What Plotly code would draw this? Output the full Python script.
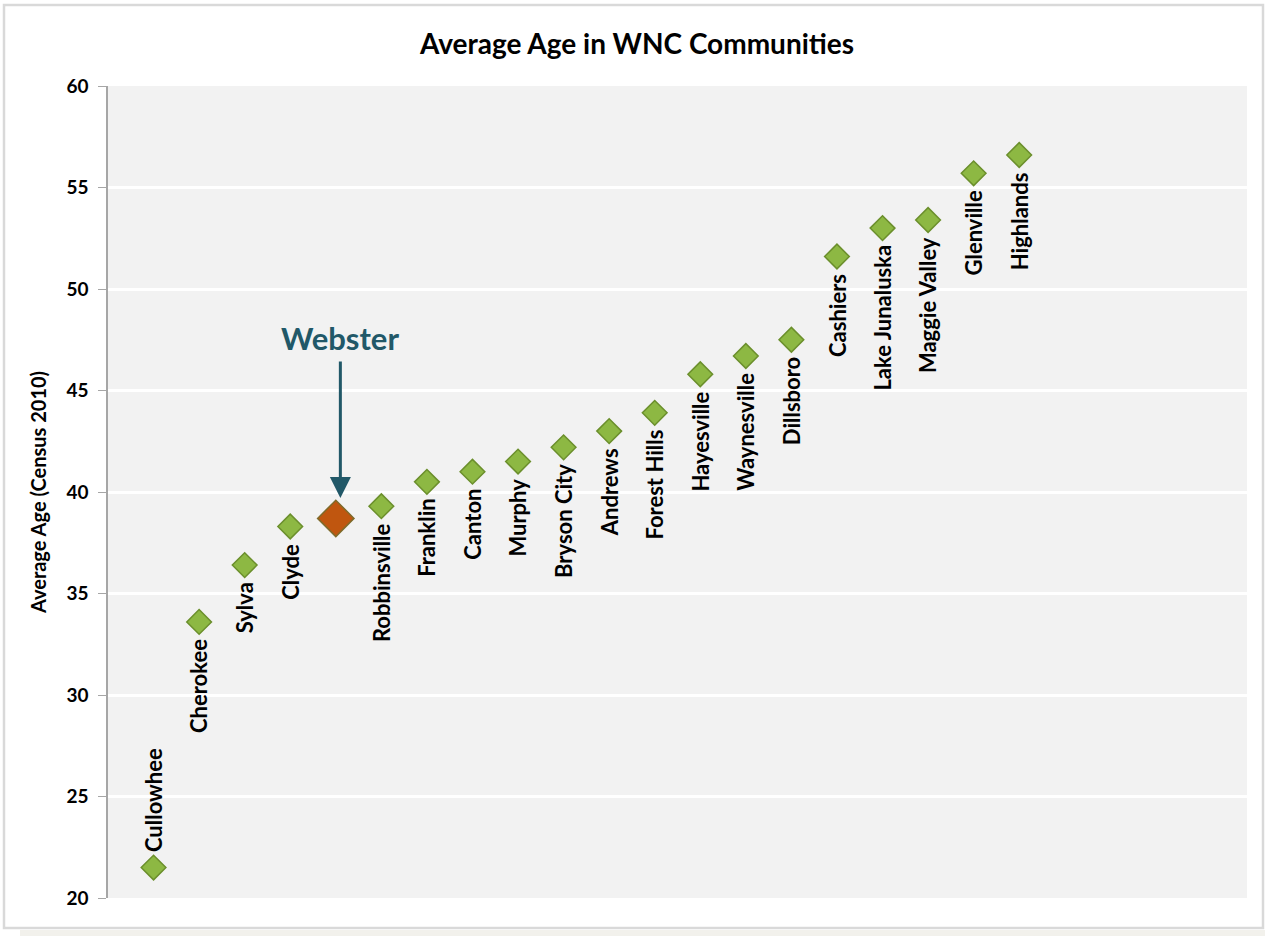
import plotly.graph_objects as go

communities = ["Cullowhee", "Cherokee", "Sylva", "Clyde", "Webster", "Robbinsville",
               "Franklin", "Canton", "Murphy", "Bryson City", "Andrews", "Forest Hills",
               "Hayesville", "Waynesville", "Dillsboro", "Cashiers", "Lake Junaluska",
               "Maggie Valley", "Glenville", "Highlands"]
avg_age = [21.5, 33.6, 36.4, 38.3, 38.7, 39.3, 40.5, 41.0, 41.5, 42.2, 43.0, 43.9,
           45.8, 46.7, 47.5, 51.6, 53.0, 53.4, 55.7, 56.6]
highlight = "Webster"
y_ticks = [20, 25, 30, 35, 40, 45, 50, 55, 60]

positions = list(range(1, len(communities) + 1))

FONT = "Lato, 'Open Sans', sans-serif"

fig = go.Figure()

others_x = [p for p, c in zip(positions, communities) if c != highlight]
others_y = [v for v, c in zip(avg_age, communities) if c != highlight]
hl_x = [p for p, c in zip(positions, communities) if c == highlight]
hl_y = [v for v, c in zip(avg_age, communities) if c == highlight]

fig.add_trace(go.Scatter(
    x=others_x, y=others_y, mode="markers",
    marker=dict(symbol="diamond", size=19, color="#8db843",
                line=dict(color="#6b8f2c", width=1.5)),
    showlegend=False, hoverinfo="skip"))
fig.add_trace(go.Scatter(
    x=hl_x, y=hl_y, mode="markers",
    marker=dict(symbol="diamond", size=28, color="#c0560f",
                line=dict(color="#7f6a2a", width=1.5)),
    showlegend=False, hoverinfo="skip"))

annotations = []
for p, c, v in zip(positions, communities, avg_age):
    if c == highlight:
        continue
    above = (c == "Cullowhee")
    annotations.append(dict(
        x=p, y=v, xref="x", yref="y", text=c, showarrow=False,
        textangle=-90, xanchor="center",
        yanchor="bottom" if above else "top",
        yshift=13 if above else -15,
        font=dict(family=FONT, size=22, color="#000000", weight="bold")))

# Webster callout
wi = communities.index(highlight)
annotations.append(dict(
    x=positions[wi] + 0.1, y=avg_age[wi] + 1.0, ax=positions[wi] + 0.1, ay=avg_age[wi] + 7.8,
    xref="x", yref="y", axref="x", ayref="y", text="", showarrow=True,
    arrowhead=2, arrowsize=1.4, arrowwidth=3, arrowcolor="#215868"))
annotations.append(dict(
    x=positions[wi], y=avg_age[wi] + 8.9, xref="x", yref="y", xshift=4,
    text="Webster", showarrow=False, xanchor="center", yanchor="middle",
    font=dict(family=FONT, size=31, color="#215868", weight="bold")))

W, H = 1265, 936
L, R, T, B = 108, 18, 86, 38
pw, ph = W - L - R, H - T - B

def px_x(px):
    return (px - L) / pw

def px_y(py):
    return (H - B - py) / ph

shapes = [
    dict(type="rect", xref="paper", yref="paper",
         x0=px_x(20), x1=px_x(1265), y0=px_y(936), y1=px_y(930),
         fillcolor="#f2f1ec", line=dict(width=0), layer="below"),
    dict(type="rect", xref="paper", yref="paper",
         x0=px_x(4), x1=px_x(1263), y0=px_y(928), y1=px_y(5),
         fillcolor="rgba(0,0,0,0)", line=dict(color="#d9d9d9", width=2.5), layer="below"),
]

fig.update_layout(
    width=W, height=H,
    margin=dict(l=L, r=R, t=T, b=B),
    paper_bgcolor="#ffffff", plot_bgcolor="#f2f2f2",
    title=dict(text="Average Age in WNC Communities", x=637 / W, xanchor="center",
               y=1 - 44 / H, yanchor="middle",
               font=dict(family=FONT, size=28, color="#000000", weight="bold")),
    xaxis=dict(range=[0, 25], showgrid=False, zeroline=False, showticklabels=False,
               ticks="", showline=False),
    yaxis=dict(range=[20, 60], tickvals=y_ticks, showgrid=True, gridcolor="#ffffff",
               gridwidth=3, zeroline=False, showline=True, linecolor="#a6a6a6",
               linewidth=1.5, ticks="outside", ticklen=8, tickcolor="#a6a6a6",
               ticklabelstandoff=6,
               tickfont=dict(family=FONT, size=19, color="#000000", weight="bold"),
               title=dict(text="Average Age (Census 2010)", standoff=14,
                          font=dict(family=FONT, size=20, color="#000000", weight="bold"))),
    annotations=annotations, shapes=shapes,
)

fig.write_html("out.html")
